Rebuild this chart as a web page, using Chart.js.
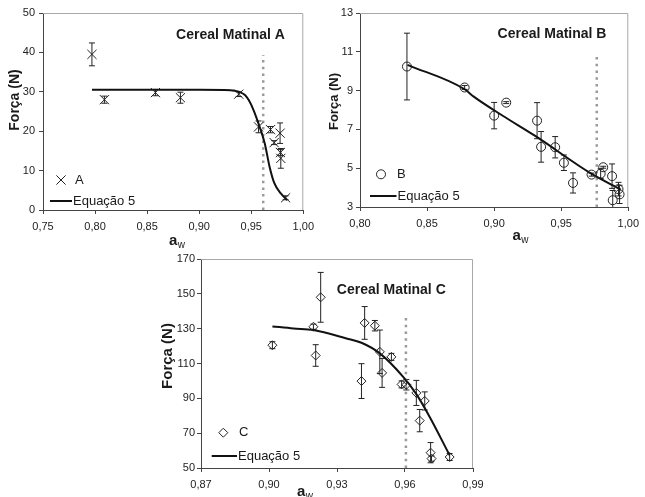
<!DOCTYPE html>
<html>
<head>
<meta charset="utf-8">
<script src="https://cdn.jsdelivr.net/npm/chart.js"></script>
<style>
  body { margin: 0; background: #fff; width: 645px; height: 497px; position: relative; overflow: hidden; }
  .painel { position: absolute; }
</style>
</head>
<body>
<div class="painel" style="left:0;top:0;width:320px;height:250px"><canvas id="graficoA"></canvas></div>
<div class="painel" style="left:320px;top:0;width:325px;height:250px"><canvas id="graficoB"></canvas></div>
<div class="painel" style="left:160px;top:245px;width:330px;height:252px"><canvas id="graficoC"></canvas></div>
<script>
// Cereal Matinal A
const awA = [0.797, 0.809, 0.858, 0.882, 0.938, 0.957, 0.9685, 0.972, 0.9777, 0.978, 0.9784, 0.983];
const forcaA = [39.5, 28.0, 29.8, 28.5, 29.4, 21.1, 20.4, 17.1, 19.5, 14.6, 13.1, 3.1];
const erroA = [2.9, 0.9, 0.8, 1.4, 0.6, 1.5, 0.8, 0.5, 2.6, 0.8, 2.5, 0.5];
const ajusteXA = [0.797, 0.85, 0.90, 0.93, 0.938, 0.944, 0.9476, 0.952, 0.9569, 0.963, 0.9676, 0.9722, 0.9784, 0.9846];
const ajusteYA = [30.5, 30.5, 30.5, 30.4, 30.0, 29.2, 27.9, 25.5, 22.0, 16.9, 11.0, 6.8, 4.2, 2.5];
const ticksXA = [0.75, 0.80, 0.85, 0.90, 0.95, 1.00];
const ticksYA = [0, 10, 20, 30, 40, 50];
const awCriticaA = 0.9615;

// Cereal Matinal B
const awB = [0.835, 0.878, 0.900, 0.909, 0.932, 0.935, 0.9455, 0.952, 0.9588, 0.9726, 0.9794, 0.9813, 0.9879, 0.9884, 0.9927, 0.9935];
const forcaB = [10.24, 9.16, 7.71, 8.38, 7.45, 6.10, 6.08, 5.28, 4.24, 4.67, 4.72, 5.05, 4.59, 3.35, 3.92, 3.65];
const erroB = [1.72, 0.1, 0.68, 0.05, 0.93, 0.79, 0.55, 0.4, 0.52, 0.08, 0.25, 0.05, 0.63, 0.5, 0.35, 0.47];
const ajusteXB = [0.8354, 0.878, 0.8848, 0.9067, 0.9309, 0.9721, 0.9944];
const ajusteYB = [10.33, 9.07, 8.69, 7.69, 6.65, 4.73, 3.9];
const ticksXB = [0.80, 0.85, 0.90, 0.95, 1.00];
const ticksYB = [3, 5, 7, 9, 11, 13];
const awCriticaB = 0.9765;

// Cereal Matinal C
const awC = [0.9015, 0.9196, 0.9206, 0.9228, 0.9408, 0.9422, 0.9467, 0.9489, 0.9499, 0.9540, 0.9585, 0.9606, 0.9650, 0.9665, 0.9687, 0.9713, 0.9717, 0.9797];
const forcaC = [120.5, 131.1, 114.6, 148.0, 99.9, 133.3, 131.7, 116.7, 104.6, 113.8, 98.0, 97.8, 93.1, 77.2, 88.5, 58.8, 55.4, 56.3];
const erroC = [2, 1.5, 6.2, 14.3, 10.0, 9.4, 3.0, 12.5, 8.3, 2.0, 2.0, 3.0, 7.2, 6.4, 5.2, 5.8, 1.5, 2.0];
const ajusteXC = [0.9015, 0.9108, 0.9196, 0.9342, 0.9408, 0.9489, 0.9592, 0.965, 0.9709, 0.9797];
const ajusteYC = [131.3, 130.1, 129.2, 124.4, 121.9, 115.8, 102.3, 92.4, 79.3, 57.3];
const ticksXC = [0.87, 0.90, 0.93, 0.96, 0.99];
const ticksYC = [50, 70, 90, 110, 130, 150, 170];
const awCriticaC = 0.9604;

const fonte = '"Liberation Sans", Arial, sans-serif';
Chart.defaults.font.family = fonte;

const extras = {
  id: 'extras',
  beforeDatasetsDraw(chart, args, o) {
    const ctx = chart.ctx, a = chart.chartArea;
    const sx = chart.scales.x, sy = chart.scales.y;
    ctx.save();
    // moldura cinza em cima e à direita
    ctx.strokeStyle = '#a8a8a8';
    ctx.lineWidth = 1;
    ctx.beginPath();
    ctx.moveTo(a.left, a.top + 0.5);
    ctx.lineTo(a.right - 0.5, a.top + 0.5);
    ctx.lineTo(a.right - 0.5, a.bottom);
    ctx.stroke();
    // barras de erro
    ctx.strokeStyle = '#222';
    const pts = chart.data.datasets[0].data;
    pts.forEach((p, i) => {
      const x = sx.getPixelForValue(p.x);
      const y1 = Math.min(sy.getPixelForValue(p.y + o.erro[i]), a.bottom);
      const y2 = Math.min(sy.getPixelForValue(p.y - o.erro[i]), a.bottom);
      ctx.beginPath();
      ctx.moveTo(x, y1); ctx.lineTo(x, y2);
      ctx.moveTo(x - 3, y1); ctx.lineTo(x + 3, y1);
      if (y2 < a.bottom) { ctx.moveTo(x - 3, y2); ctx.lineTo(x + 3, y2); }
      ctx.stroke();
    });
    ctx.restore();
  },
  afterDraw(chart, args, o) {
    const ctx = chart.ctx;
    ctx.save();
    ctx.fillStyle = '#1a1a1a';
    // titulo
    ctx.font = 'bold 14px ' + fonte;
    ctx.textAlign = 'center';
    ctx.textBaseline = 'middle';
    ctx.fillText(o.titulo, o.tituloPos[0], o.tituloPos[1]);
    // eixo y
    ctx.save();
    ctx.translate(o.eixoY[0], o.eixoY[1]);
    ctx.rotate(-Math.PI / 2);
    ctx.font = 'bold ' + o.eixoY[2] + 'px ' + fonte;
    ctx.fillText('Força (N)', 0, 0);
    ctx.restore();
    // eixo x: a com w subscrito
    ctx.textAlign = 'left';
    ctx.textBaseline = 'alphabetic';
    ctx.font = 'bold 15px ' + fonte;
    ctx.fillText('a', o.eixoX[0], o.eixoX[1]);
    const wa = ctx.measureText('a').width;
    ctx.font = '10px ' + fonte;
    ctx.fillText('w', o.eixoX[0] + wa + 0.5, o.eixoX[1] + 3);
    // legenda
    const lg = o.legenda;
    const ds = chart.data.datasets[0];
    ctx.save();
    ctx.strokeStyle = '#222';
    ctx.fillStyle = 'rgba(0,0,0,0)';
    ctx.lineWidth = 1;
    if (Chart.helpers && Chart.helpers.drawPoint) {
      Chart.helpers.drawPoint(ctx, { pointStyle: ds.pointStyle, radius: ds.radius, borderWidth: 1, rotation: 0 }, lg.marca[0], lg.marca[1]);
    }
    ctx.restore();
    ctx.font = '13px ' + fonte;
    ctx.textBaseline = 'middle';
    ctx.fillText(ds.label, lg.texto1, lg.marca[1]);
    ctx.strokeStyle = '#111';
    ctx.lineWidth = 2;
    ctx.beginPath();
    ctx.moveTo(lg.linha[0], lg.linha[2]);
    ctx.lineTo(lg.linha[1], lg.linha[2]);
    ctx.stroke();
    ctx.fillText(chart.data.datasets[1].label, lg.linha[1] + 1, lg.linha[2]);
    ctx.restore();
  }
};

function formataX(v) { return v.toFixed(2).replace('.', ','); }

function painel(id, s) {
  return new Chart(document.getElementById(id), {
    type: 'scatter',
    data: {
      datasets: [
        {
          label: s.nome,
          data: s.aw.map((x, i) => ({ x: x, y: s.forca[i] })),
          pointStyle: s.marca,
          radius: s.raio,
          borderColor: '#222',
          backgroundColor: 'rgba(0,0,0,0)',
          borderWidth: 1
        },
        {
          label: 'Equação 5',
          type: 'line',
          data: s.ajusteX.map((x, i) => ({ x: x, y: s.ajusteY[i] })),
          borderColor: '#111',
          borderWidth: 2,
          pointRadius: 0,
          cubicInterpolationMode: 'monotone',
          fill: false
        },
        {
          label: 'aw',
          type: 'line',
          data: [{ x: s.critica, y: s.criticaY[0] }, { x: s.critica, y: s.criticaY[1] }],
          borderColor: '#9a9a9a',
          borderWidth: 2.5,
          borderDash: [2.5, 4.2],
          pointRadius: 0,
          fill: false
        }
      ]
    },
    options: {
      responsive: true,
      maintainAspectRatio: false,
      animation: false,
      layout: { padding: s.padding },
      plugins: {
        legend: { display: false },
        tooltip: { enabled: false },
        extras: s.extras
      },
      scales: {
        x: {
          type: 'linear',
          min: s.ticksX[0],
          max: s.ticksX[s.ticksX.length - 1],
          afterBuildTicks: sc => { sc.ticks = s.ticksX.map(v => ({ value: v })); },
          afterFit: sc => { sc.height = s.alturaX; },
          grid: { drawOnChartArea: false, drawTicks: true, tickLength: 4, color: '#444' },
          border: { color: '#444' },
          ticks: { color: '#222', font: { size: 11 }, padding: 6, maxRotation: 0, autoSkip: false, callback: v => formataX(v) }
        },
        y: {
          min: s.ticksY[0],
          max: s.ticksY[s.ticksY.length - 1],
          afterBuildTicks: sc => { sc.ticks = s.ticksY.map(v => ({ value: v })); },
          afterFit: sc => { sc.width = s.larguraY; },
          grid: { drawOnChartArea: false, drawTicks: true, tickLength: 4, color: '#444' },
          border: { color: '#444' },
          ticks: { color: '#222', font: { size: 11 }, padding: s.padY, autoSkip: false, callback: v => String(v) }
        }
      }
    },
    plugins: [extras]
  });
}

painel('graficoA', {
  nome: 'A', marca: 'crossRot', raio: 6.5,
  aw: awA, forca: forcaA, ajusteX: ajusteXA, ajusteY: ajusteYA,
  critica: awCriticaA, criticaY: [0, 39.3],
  ticksX: ticksXA, ticksY: ticksYA,
  padding: { top: 13, right: 7, left: 0, bottom: 0 }, alturaX: 40, larguraY: 43, padY: 4,
  extras: {
    erro: erroA, titulo: 'Cereal Matinal A', tituloPos: [230.5, 35],
    eixoY: [15, 100, 14], eixoX: [169, 245],
    legenda: { marca: [61, 180], texto1: 75, linha: [50, 72, 201] }
  }
});

painel('graficoB', {
  nome: 'B', marca: 'circle', raio: 4.5,
  aw: awB, forca: forcaB, ajusteX: ajusteXB, ajusteY: ajusteYB,
  critica: awCriticaB, criticaY: [3, 10.84],
  ticksX: ticksXB, ticksY: ticksYB,
  padding: { top: 13, right: 10, left: 0, bottom: 0 }, alturaX: 43, larguraY: 40, padY: 3,
  extras: {
    erro: erroB, titulo: 'Cereal Matinal B', tituloPos: [232, 34.3],
    eixoY: [14, 101.5, 13], eixoX: [192.5, 240],
    legenda: { marca: [61, 174.3], texto1: 77, linha: [50, 76.5, 196] }
  }
});

painel('graficoC', {
  nome: 'C', marca: 'rectRot', raio: 4.5,
  aw: awC, forca: forcaC, ajusteX: ajusteXC, ajusteY: ajusteYC,
  critica: awCriticaC, criticaY: [50, 138.4],
  ticksX: ticksXC, ticksY: ticksYC,
  padding: { top: 14, right: 17, left: 0, bottom: 0 }, alturaX: 29, larguraY: 41, padY: 2,
  extras: {
    erro: erroC, titulo: 'Cereal Matinal C', tituloPos: [231.3, 45],
    eixoY: [8, 111, 15], eixoX: [137, 250.5],
    legenda: { marca: [63.3, 187.7], texto1: 79, linha: [51.7, 77, 211] }
  }
});
</script>
</body>
</html>
